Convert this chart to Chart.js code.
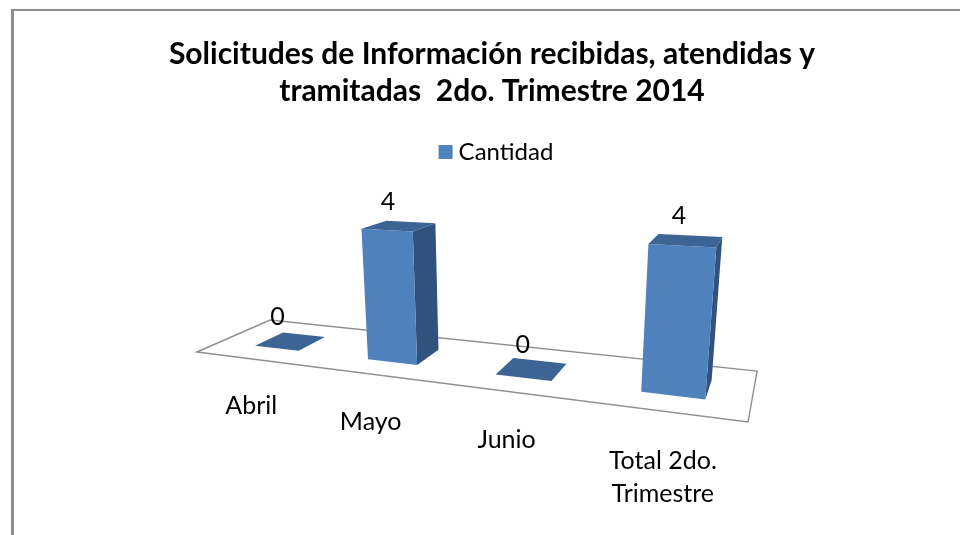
<!DOCTYPE html>
<html>
<head>
<meta charset="utf-8">
<style>
	html, body { margin: 0; padding: 0; background: #fff; overflow: hidden; }
	#frame { position: absolute; left: 11px; top: 9px; width: 960px; height: 540px; border-left: 3px solid #8c8c8c; border-top: 2px solid #8c8c8c; }
	#myChart { display: block; }
</style>
</head>
<body>
<div id="frame"><canvas id="myChart" width="956" height="524"></canvas></div>
<script src="https://cdn.jsdelivr.net/npm/chart.js@4.4.2/dist/chart.umd.min.js"></script>
<script>
	const titleLines = ['Solicitudes de Información recibidas, atendidas y', 'tramitadas  2do. Trimestre 2014'];
	const seriesName = 'Cantidad';
	const categories = ['Abril', 'Mayo', 'Junio', ['Total 2do.', 'Trimestre']];
	const cantidad = [0, 4, 0, 4];

	const FONT = 'Lato, Carlito, sans-serif';
	const offX = 14, offY = 11; // canvas origin on the page

	// Perspective of the old 3D chart: u along the floor, v depth, w height (0..1)
	function project(u, v, w) {
		const den = -0.2368 * u + 0.1358 * v + 1 - 0.043 * w;
		const x = (373.9 * u + 109.7 * v + 197 - 21.8 * w) / den;
		const y = (-29.9 * u + 11.5 * v + 352 - 135.2 * w) / den;
		return [x - offX, y - offY];
	}

	function face(c, points, color) {
		c.beginPath();
		points.forEach(function(p, i) {
			if (i === 0) c.moveTo(p[0], p[1]); else c.lineTo(p[0], p[1]);
		});
		c.closePath();
		c.fillStyle = color;
		c.fill();
	}

	const perspectiveBars = {
		id: 'perspectiveBars',
		afterLayout: function(chart) {
			// legend sits a little right of the title in the original
			chart.legend.left += 7;
			chart.legend.right += 7;
		},
		beforeDatasetDraw: function() { return false; }, // bars are redrawn below in perspective
		afterDatasetsDraw: function(chart) {
			const c = chart.ctx;
			const area = chart.chartArea;
			const yScale = chart.scales.y;
			const v0 = 0.3, v1 = 0.7;
			const bars = chart.getDatasetMeta(0).data;

			c.save();
			// floor
			c.beginPath();
			[[0, 0], [1, 0], [1, 1], [0, 1]].forEach(function(p, i) {
				const q = project(p[0], p[1], 0);
				if (i === 0) c.moveTo(q[0], q[1]); else c.lineTo(q[0], q[1]);
			});
			c.closePath();
			c.strokeStyle = '#8f8f8f';
			c.lineWidth = 1.4;
			c.stroke();

			bars.forEach(function(bar, i) {
				const mid = (bar.x - area.left) / area.width + 0.007;
				const half = bar.width / area.width / 2;
				const u0 = mid - half, u1 = mid + half;
				const w = (yScale.getPixelForValue(0) - yScale.getPixelForValue(cantidad[i])) / area.height;

				if (w > 0) {
					face(c, [project(u1, v0, 0), project(u1, v1, 0), project(u1, v1, w), project(u1, v0, w)], '#31527c');
					face(c, [project(u0, v0, 0), project(u1, v0, 0), project(u1, v0, w), project(u0, v0, w)], '#4f81bd');
				}
				face(c, [project(u0, v0, w), project(u1, v0, w), project(u1, v1, w), project(u0, v1, w)], '#3c6494');

				// value label
				const top = project(mid, 0.5, w);
				c.fillStyle = '#000';
				c.font = '25px ' + FONT;
				c.textAlign = 'center';
				c.textBaseline = 'middle';
				c.fillText(String(cantidad[i]), top[0] - 14 + 8 * mid, top[1] - 24);

				// category label
				const foot = project(mid, 0, 0);
				const lines = [].concat(categories[i]);
				lines.forEach(function(line, k) {
					c.fillText(line, foot[0] - 3, foot[1] + 46 + 4 * mid + k * 33);
				});
			});
			c.restore();
		}
	};

	new Chart(document.getElementById('myChart'), {
		type: 'bar',
		data: {
			labels: categories,
			datasets: [{
				label: seriesName,
				data: cantidad,
				backgroundColor: '#4f81bd',
				borderColor: '#4f81bd',
				borderWidth: 12, // makes the legend box square and close to its text, bars are not drawn by the library
				barPercentage: 0.4,
				categoryPercentage: 1
			}]
		},
		options: {
			responsive: false,
			animation: false,
			scales: {
				x: { display: false },
				y: { display: false, min: 0, max: 4 }
			},
			plugins: {
				tooltip: { enabled: false },
				title: {
					display: true,
					text: titleLines,
					color: '#000',
					font: { family: FONT, size: 30, weight: 'bold', lineHeight: 1.233 },
					padding: { top: 25, bottom: 24 }
				},
				legend: {
					display: true,
					position: 'top',
					labels: {
						color: '#000',
						font: { family: FONT, size: 24 },
						boxWidth: 2,
						boxHeight: 2,
						padding: 6
					}
				}
			}
		},
		plugins: [perspectiveBars]
	});
</script>
</body>
</html>
